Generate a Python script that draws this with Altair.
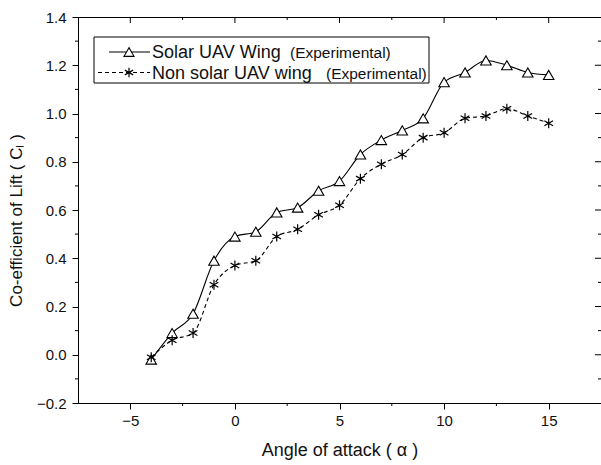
import altair as alt
import pandas as pd

# ---------------- data ----------------
angles = [-4, -3, -2, -1, 0, 1, 2, 3, 4, 5, 6, 7, 8, 9, 10, 11, 12, 13, 14, 15]
solar_cl = [-0.02, 0.09, 0.17, 0.39, 0.49, 0.51, 0.59, 0.61, 0.68, 0.72,
            0.83, 0.89, 0.93, 0.98, 1.13, 1.17, 1.22, 1.20, 1.17, 1.16]
nonsolar_cl = [-0.01, 0.06, 0.09, 0.29, 0.37, 0.39, 0.49, 0.52, 0.58, 0.62,
               0.73, 0.79, 0.83, 0.90, 0.92, 0.98, 0.99, 1.02, 0.99, 0.96]

series_names = ["Solar UAV Wing", "Non solar UAV wing"]
legend_suffix = "(Experimental)"

x_major = [-5, 0, 5, 10, 15]
x_minor = [-2.5, 2.5, 7.5, 12.5]
y_major = [-0.2, 0.0, 0.2, 0.4, 0.6, 0.8, 1.0, 1.2, 1.4]
y_minor = [-0.1, 0.1, 0.3, 0.5, 0.7, 0.9, 1.1, 1.3]
y_inner = [0.0, 0.2, 0.4, 0.6, 0.8, 1.0, 1.2]

# ---------------- layout ----------------
W, H = 523, 386
FONT = "Liberation Sans"
STAR = "M0,-1L0,1M-0.87,-0.5L0.87,0.5M-0.87,0.5L0.87,-0.5"

solar_df = pd.DataFrame({"angle": angles, "cl": solar_cl})
non_df = pd.DataFrame({"angle": angles, "cl": nonsolar_cl})

xscale = alt.Scale(domain=[-7.5, 17.5], nice=False, zero=False)
yscale = alt.Scale(domain=[-0.2, 1.4], nice=False, zero=False)

x_axis = alt.Axis(values=x_major, title="Angle of attack ( α )", grid=False,
                  tickSize=6, labelPadding=4, labelFontSize=15, titleFontSize=18,
                  titleFontWeight="normal", titlePadding=13, domainColor="black",
                  tickColor="black", labelColor="#111", titleColor="#111",
                  labelFont=FONT, titleFont=FONT)
y_axis = alt.Axis(values=y_major, format=".1f", title="Co-efficient of Lift ( Cₗ )",
                  grid=False, tickSize=6, labelPadding=6, labelFontSize=15,
                  titleFontSize=17, titleFontWeight="normal", titlePadding=11,
                  titleY=H / 2 + 10,
                  domainColor="black", tickColor="black", labelColor="#111",
                  titleColor="#111", labelFont=FONT, titleFont=FONT)

X = alt.X("angle:Q", scale=xscale, axis=x_axis)
Y = alt.Y("cl:Q", scale=yscale, axis=y_axis)

solar_line = alt.Chart(solar_df).mark_line(
    color="black", strokeWidth=1.1, interpolate="monotone"
).encode(x=X, y=Y)
non_line = alt.Chart(non_df).mark_line(
    color="black", strokeWidth=1.1, strokeDash=[4, 3], interpolate="monotone"
).encode(x=X, y=Y)
solar_pts = alt.Chart(solar_df).mark_point(
    shape="triangle-up", filled=True, fill="white", stroke="black",
    strokeWidth=1.1, size=110, opacity=1
).encode(x=X, y=Y)
non_pts = alt.Chart(non_df).mark_point(
    shape=STAR, filled=False, stroke="black", strokeWidth=1.2, size=100, opacity=1
).encode(x=X, y=Y)

# ---------- extra ticks (minor + mirrored) ----------
def xticks(vals, y0, y1):
    return alt.Chart(pd.DataFrame({"angle": vals})).mark_rule(
        color="black", strokeWidth=1).encode(
        x=X, y=alt.value(y0), y2=alt.value(y1))

def yticks(vals, x0, x1):
    return alt.Chart(pd.DataFrame({"cl": vals})).mark_rule(
        color="black", strokeWidth=1).encode(
        y=Y, x=alt.value(x0), x2=alt.value(x1))

ticks = [
    xticks(x_minor, H, H + 3),       # bottom minor
    xticks(x_major, 0, 6),           # top major (inward)
    xticks(x_minor, 0, 3),           # top minor (inward)
    yticks(y_minor, -3, 0),          # left minor
    yticks(y_inner, W - 6, W),       # right major (inward)
    yticks(y_minor, W - 3, W),       # right minor (inward)
]

# ---------------- legend ----------------
one = pd.DataFrame({"k": [0]})
r1, r2 = 35, 55.5
legend = [
    alt.Chart(one).mark_rect(fill="white", stroke="black", strokeWidth=1).encode(
        x=alt.value(16), x2=alt.value(351), y=alt.value(20), y2=alt.value(66)),
    alt.Chart(one).mark_rule(color="black", strokeWidth=1.1).encode(
        x=alt.value(31), x2=alt.value(72), y=alt.value(r1)),
    alt.Chart(one).mark_point(shape="triangle-up", filled=True, fill="white",
                              stroke="black", strokeWidth=1.1, size=100,
                              opacity=1).encode(x=alt.value(51), y=alt.value(r1)),
    alt.Chart(one).mark_rule(color="black", strokeWidth=1.1, strokeDash=[4, 3]).encode(
        x=alt.value(20), x2=alt.value(72), y=alt.value(r2)),
    alt.Chart(one).mark_point(shape=STAR, filled=False, stroke="black",
                              strokeWidth=1.2, size=90, opacity=1).encode(
        x=alt.value(51), y=alt.value(r2)),
    alt.Chart(one).mark_text(align="left", baseline="middle", fontSize=18,
                             font=FONT, color="#111").encode(
        x=alt.value(74), y=alt.value(r1 + 1), text=alt.value(series_names[0])),
    alt.Chart(one).mark_text(align="left", baseline="middle", fontSize=15.5,
                             font=FONT, color="#111").encode(
        x=alt.value(212), y=alt.value(r1 + 1), text=alt.value(legend_suffix)),
    alt.Chart(one).mark_text(align="left", baseline="middle", fontSize=18,
                             font=FONT, color="#111").encode(
        x=alt.value(74), y=alt.value(r2 + 1), text=alt.value(series_names[1])),
    alt.Chart(one).mark_text(align="left", baseline="middle", fontSize=15.5,
                             font=FONT, color="#111").encode(
        x=alt.value(248), y=alt.value(r2 + 1), text=alt.value(legend_suffix)),
]

chart = alt.layer(
    solar_line, non_line, solar_pts, non_pts, *ticks, *legend
).properties(
    width=W, height=H,
    padding={"left": 78, "top": 17, "right": 0, "bottom": 62},
    autosize=alt.AutoSizeParams(type="none"),
    background="white",
).configure_view(stroke="black", strokeWidth=1)

chart.save("out.html", embed_options={"renderer": "svg", "actions": False})
